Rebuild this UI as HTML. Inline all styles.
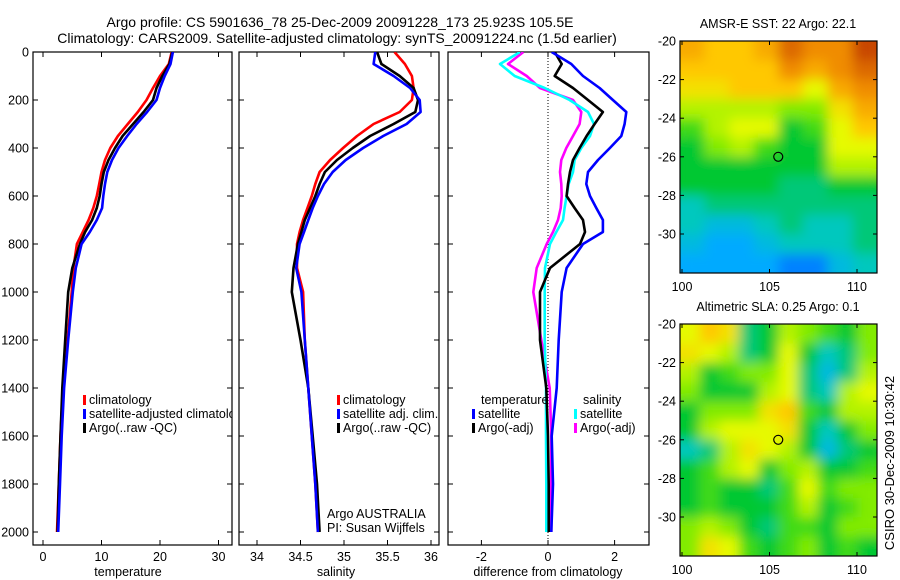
<!DOCTYPE html>
<html><head><meta charset="utf-8"><style>
html,body{margin:0;padding:0;background:#fff;}
svg{display:block;font-family:"Liberation Sans",sans-serif;}
text{fill:#000;}
</style></head><body>
<svg id="chart" width="900" height="580" viewBox="0 0 900 580" xmlns="http://www.w3.org/2000/svg">
<defs>
<filter id="smooth" filterUnits="userSpaceOnUse" x="660" y="20" width="240" height="560"><feGaussianBlur stdDeviation="6"/><feComponentTransfer><feFuncA type="linear" slope="4"/></feComponentTransfer></filter>
<clipPath id="clipP1"><rect x="33" y="52" width="199" height="493"/></clipPath>
<clipPath id="clipP2"><rect x="239" y="52" width="200" height="493"/></clipPath>
<clipPath id="clipP3"><rect x="448" y="52" width="201" height="493"/></clipPath>
<clipPath id="clipM1"><rect x="680" y="41" width="197" height="232"/></clipPath>
<clipPath id="clipM2"><rect x="680" y="324" width="197" height="232"/></clipPath>
</defs>
<text x="340" y="27" font-size="14" text-anchor="middle">Argo profile: CS 5901636_78 25-Dec-2009 20091228_173 25.923S 105.5E</text>
<text x="337" y="43" font-size="14" text-anchor="middle">Climatology: CARS2009. Satellite-adjusted climatology: synTS_20091224.nc (1.5d earlier)</text>
<g id="layer"></g>
<text transform="translate(894,463) rotate(-90)" font-size="13" text-anchor="middle">CSIRO 30-Dec-2009 10:30:42</text>
</svg>
<script>
// ---------- data ----------
const depth = [0,50,100,150,200,250,300,350,400,450,500,550,600,650,700,750,800,900,1000,1200,1400,1600,1800,2000];
const tempClim = [22,21.5,20,18.8,17.7,16.2,14.5,12.8,11.5,10.6,10,9.6,9.2,8.6,7.8,6.8,5.8,5.2,4.9,4.2,3.4,3.0,2.7,2.4];
const tempSat  = [22.2,21.8,20.8,20.0,19.4,17.8,16.0,14.4,12.9,11.8,11.0,10.6,10.3,10.1,9.2,8.0,6.6,5.6,5.1,4.3,3.6,3.2,2.9,2.6];
const tempArgo = [22.1,21.6,20.4,19.4,18.8,17.2,15.4,13.6,12.3,11.2,10.4,10.0,9.7,9.2,8.4,7.2,6.3,5.0,4.3,3.8,3.3,3.0,2.7,2.5];
const salClim = [35.58,35.70,35.78,35.80,35.78,35.64,35.34,35.15,34.99,34.84,34.72,34.67,34.63,34.58,34.53,34.49,34.46,34.46,34.53,34.55,34.59,34.63,34.67,34.70];
const salSat  = [35.36,35.34,35.57,35.76,35.87,35.88,35.72,35.45,35.22,35.02,34.87,34.77,34.70,34.64,34.59,34.54,34.49,34.45,34.51,34.55,34.59,34.63,34.67,34.70];
const salArgo = [35.38,35.43,35.64,35.80,35.85,35.82,35.57,35.30,35.10,34.92,34.78,34.72,34.67,34.61,34.55,34.51,34.47,34.42,34.40,34.50,34.59,34.64,34.69,34.72];
const dTempSat  = [0.11,0.70,1.05,1.55,1.95,2.35,2.30,2.20,1.86,1.50,1.20,1.15,1.26,1.45,1.65,1.65,1.05,0.56,0.41,0.32,0.26,0.11,0.15,0.10];
const dTempArgo = [0.20,0.41,0.20,0.75,1.20,1.65,1.40,1.16,0.95,0.75,0.66,0.60,0.56,0.80,1.05,1.11,0.96,0.06,-0.24,-0.24,-0.05,0.00,0.02,0.02];
const dSalSat   = [-0.84,-1.44,-1.00,-0.10,0.65,1.20,1.38,1.26,1.00,0.80,0.75,0.62,0.56,0.50,0.45,0.25,0.06,-0.09,-0.10,-0.10,-0.06,-0.06,-0.05,-0.05];
const dSalArgo  = [-0.74,-1.20,-0.64,-0.24,0.75,1.00,0.95,0.75,0.55,0.40,0.36,0.40,0.41,0.38,0.30,0.15,-0.04,-0.34,-0.44,-0.20,0.05,0.10,0.10,0.10];
const depthTicks = [0,200,400,600,800,1000,1200,1400,1600,1800,2000];
const tempTicks = [0,10,20,30];
const salTicks = [34,34.5,35,35.5,36];
const diffTicks = [-2,0,2];
const lonTicks = [100,105,110];
const latTicks = [-20,-22,-24,-26,-28,-30];
const sstGrid = [
 [6.5,6,6,6.5,7.5,7,7,8],
 [6,6,6,6,7,6.5,7,7.5],
 [5.5,5.5,6,6,6,5,6.5,7],
 [4.5,4.5,4.5,4.5,4,4,5.5,6.5],
 [3.5,4.5,5,5,3,3.5,5,6],
 [3,4,4.5,3.5,3,3,5,5],
 [3,3,3,3,3,3,4.5,4.5],
 [3,3,3,3,2.5,2.5,3,3],
 [2,2.5,2.5,2.5,2.5,2.5,2.5,2.5],
 [2,1.5,1.5,2,2.5,2,2,2.5],
 [1.5,1,1,1.5,2,2,2,2.5],
 [1,1,1,1,0.5,0.5,1.5,2]];
const slaGrid = [
 [5,6,5.5,2.5,3,4.5,4,3.5,3,4],
 [5.5,5,4.5,2.5,3,5,3,2,2.5,4],
 [4.5,3,3.5,4,4,5,2.5,1.5,2.5,4.5],
 [4,3,3,3,4.5,5,2.5,2,4.5,5],
 [3,4,4,4,5.5,6,3.5,3,4.5,4.5],
 [3,4.5,5,5,5,5.5,3,2,3,4],
 [2,2.5,4.5,5.5,5,4.5,3,1.5,2.5,3],
 [3,3.5,4.5,5,3,4,4.5,3,3,3.5],
 [3,3.5,3,3,2.5,3.5,5,3.5,4,4],
 [3,3.5,3,3,3,3.5,4.5,3,3.5,4],
 [4,4.5,4,3,2.5,3.5,3.5,3,4,4],
 [4,5.5,5,3.5,3,3.5,4,3,3.5,3]];
const floatLon = [105.5];
const floatLat = [-26];

// ---------- helpers ----------
const NS='http://www.w3.org/2000/svg';
const layer=document.getElementById('layer');
function mk(tag,attrs,parent){const e=document.createElementNS(NS,tag);for(const k in attrs)e.setAttribute(k,attrs[k]);(parent||layer).appendChild(e);return e;}
const yDepth = d => 52 + d*0.24;
const xTemp = v => 43 + v*5.85;
const xSal = v => 257 + (v-34)*87;
const xDiff = v => 548 + v*33.3;
const lonX = v => 682 + (v-100)*17.5;
const latY1 = v => 41 + (-20 - v)*19.3;
const latY2 = v => 324 + (-20 - v)*19.3;

function panel(name,x0,x1,y0,y1){
  const r=mk('rect',{x:x0,y:y0,width:x1-x0,height:y1-y0,fill:'none',stroke:'#000','stroke-width':1.2});
  
  
}
function yTicks(name,x0,x1,labels){
  depthTicks.forEach(d=>{
    const y=yDepth(d);
    mk('line',{x1:x0,y1:y,x2:x0+5,y2:y,stroke:'#000'});
    mk('line',{x1:x1,y1:y,x2:x1-5,y2:y,stroke:'#000'});
    if(labels){const t=mk('text',{x:x0-4,y:y+4.5,'font-size':12.5,'text-anchor':'end'});t.textContent=d;
      
      }
  });
}
function xTicks(ticks,fx,fmt){
  ticks.forEach(v=>{const x=fx(v);
    mk('line',{x1:x,y1:545,x2:x,y2:540,stroke:'#000'});
    mk('line',{x1:x,y1:52,x2:x,y2:57,stroke:'#000'});
    const t=mk('text',{x:x,y:561,'font-size':12.5,'text-anchor':'middle'});t.textContent=fmt?fmt(v):v;
    
    
  });
}
function line(vals,fx,color,clip,name){
  const pts=vals.map((v,i)=>fx(v).toFixed(1)+','+yDepth(depth[i]).toFixed(1)).join(' ');
  const p=mk('polyline',{points:pts,fill:'none',stroke:color,'stroke-width':2.6,'stroke-linejoin':'round','clip-path':'url(#'+clip+')'});
  
  
}
function label(x,y,txt,name,size,anchor){
  const t=mk('text',{x:x,y:y,'font-size':size||12,'text-anchor':anchor||'start'});t.textContent=txt;
  
  
  return t;
}
function legendEntry(x,y,color,txt,clip,name){
  const g=mk('g',{'clip-path':clip?'url(#'+clip+')':''});
  
  
  mk('rect',{x:x,y:y-9,width:3,height:10,fill:color},g);
  const t=mk('text',{x:x+6,y:y,'font-size':12.5},g);t.textContent=txt;
}

// ---------- panel 1: temperature ----------
panel('temperature-panel',33,232,52,545);
yTicks('t',33,232,true);
xTicks(tempTicks,xTemp);
line(tempClim,xTemp,'#f00','clipP1','temp-climatology-line');
line(tempArgo,xTemp,'#000','clipP1','temp-argo-line');
line(tempSat,xTemp,'#00f','clipP1','temp-satellite-line');
label(128,576,'temperature','x-axis-title-temperature',12.5,'middle');
legendEntry(83,404,'#f00','climatology','clipP1','legend-climatology');
legendEntry(83,418,'#00f','satellite-adjusted climatology','clipP1','legend-satellite-adjusted');
legendEntry(83,432,'#000','Argo(..raw -QC)','clipP1','legend-argo');

// ---------- panel 2: salinity ----------
panel('salinity-panel',239,439,52,545);
yTicks('s',239,439,false);
xTicks(salTicks,xSal);
line(salClim,xSal,'#f00','clipP2','sal-climatology-line');
line(salArgo,xSal,'#000','clipP2','sal-argo-line');
line(salSat,xSal,'#00f','clipP2','sal-satellite-line');
label(336,576,'salinity','x-axis-title-salinity',12.5,'middle');
legendEntry(337,404,'#f00','climatology','clipP2','legend-sal-climatology');
legendEntry(337,418,'#00f','satellite adj. clim.','clipP2','legend-sal-satellite');
legendEntry(337,432,'#000','Argo(..raw -QC)','clipP2','legend-sal-argo');
label(327,518,'Argo AUSTRALIA','argo-australia-label',12.5);
label(327,532,'PI: Susan Wijffels','pi-name-label',12.5);

// ---------- panel 3: differences ----------
panel('difference-panel',448,649,52,545);
yTicks('d',448,649,false);
xTicks(diffTicks,xDiff);
const zl=mk('line',{x1:xDiff(0),y1:52,x2:xDiff(0),y2:545,stroke:'#000','stroke-dasharray':'1,2','stroke-width':1});


line(dSalArgo,xDiff,'#f0f','clipP3','diff-sal-argo-line');
line(dSalSat,xDiff,'#0ff','clipP3','diff-sal-satellite-line');
line(dTempArgo,xDiff,'#000','clipP3','diff-temp-argo-line');
line(dTempSat,xDiff,'#00f','clipP3','diff-temp-satellite-line');
label(548,576,'difference from climatology','x-axis-title-difference',12.5,'middle');
label(481,404,'temperature','legend-temperature-heading',12.5);
label(583,404,'salinity','legend-salinity-heading',12.5);
legendEntry(472,418,'#00f','satellite','clipP3','legend-diff-temp-satellite');
legendEntry(472,432,'#000','Argo(-adj)','clipP3','legend-diff-temp-argo');
legendEntry(574,418,'#0ff','satellite','clipP3','legend-diff-sal-satellite');
legendEntry(574,432,'#f0f','Argo(-adj)','clipP3','legend-diff-sal-argo');

// ---------- maps ----------
const cmapStops=[[0,[0,90,255]],[1,[0,170,255]],[2,[0,200,190]],[3,[0,200,50]],[4,[130,235,0]],[5,[230,250,0]],[6,[255,200,0]],[7,[240,140,0]],[8,[200,70,0]]];
function cmap(v){v=Math.max(0,Math.min(8,v));const i=Math.min(7,Math.floor(v));const f=v-i;const a=cmapStops[i][1],b=cmapStops[i+1][1];
  return 'rgb('+a.map((c,k)=>Math.round(c+(b[k]-c)*f)).join(',')+')';}
function drawMap(name,grid,top,latY,clip,title){
  const g=mk('g',{'clip-path':'url(#'+clip+')'});
  
  
  const inner=mk('g',{filter:'url(#smooth)'},g);
  const rows=grid.length, cols=grid[0].length, w=197/cols, h=232/rows;
  grid.forEach((row,r)=>row.forEach((v,c)=>{
    const cell=mk('rect',{x:680+c*w,y:top+r*h,width:w+0.6,height:h+0.6,fill:cmap(v)},inner);
    
    
  }));
  const fr=mk('rect',{x:680,y:top,width:197,height:232,fill:'none',stroke:'#000','stroke-width':1.2});
  
  
  latTicks.forEach(v=>{const y=latY(v);
    mk('line',{x1:680,y1:y,x2:684,y2:y,stroke:'#000'});mk('line',{x1:877,y1:y,x2:873,y2:y,stroke:'#000'});
    label(676,y+4.5,String(v),'map-lat-label',12.5,'end');});
  lonTicks.forEach(v=>{const x=lonX(v);
    mk('line',{x1:x,y1:top+232,x2:x,y2:top+228,stroke:'#000'});mk('line',{x1:x,y1:top,x2:x,y2:top+4,stroke:'#000'});
    label(x,top+250,String(v),'map-lon-label',12.5,'middle');});
  const c=mk('circle',{cx:lonX(floatLon[0]),cy:latY(floatLat[0]),r:4.5,fill:'none',stroke:'#000','stroke-width':1.2});
  
  
  label(778,top-13,title,name+'-title',12.5,'middle');
}
drawMap('sst-map',sstGrid,41,latY1,'clipM1','AMSR-E SST: 22 Argo: 22.1');
drawMap('sla-map',slaGrid,324,latY2,'clipM2','Altimetric SLA: 0.25 Argo: 0.1');
</script>
</body></html>
